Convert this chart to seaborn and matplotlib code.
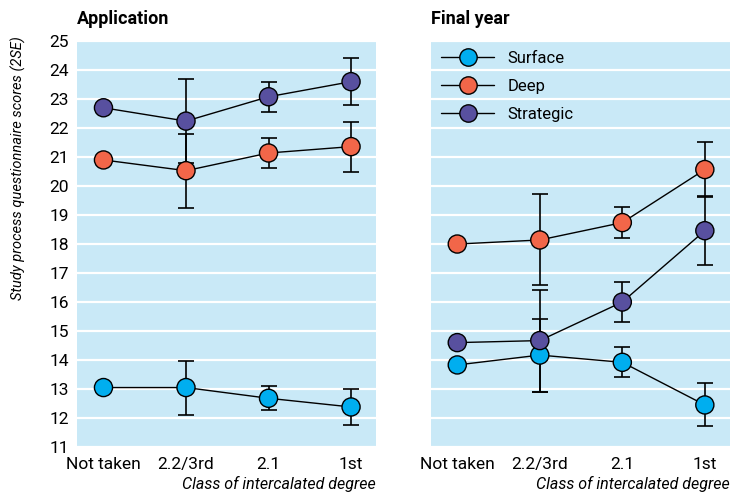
import numpy as np
import pandas as pd
import matplotlib
matplotlib.use("Agg")
import matplotlib.pyplot as plt
from matplotlib.lines import Line2D
import seaborn as sns

# data
categories = ["Not taken", "2.2/3rd", "2.1", "1st"]
styles = ["Surface", "Deep", "Strategic"]

app_surface = [13.05, 13.05, 12.68, 12.38]
app_deep = [20.90, 20.53, 21.14, 21.36]
app_strategic = [22.70, 22.24, 23.08, 23.60]
app_surface_err = [np.nan, 0.93, 0.42, 0.62]
app_deep_err = [np.nan, 1.27, 0.52, 0.86]
app_strategic_err = [np.nan, 1.45, 0.52, 0.82]

fin_surface = [13.83, 14.17, 13.92, 12.45]
fin_deep = [18.00, 18.14, 18.74, 20.57]
fin_strategic = [14.60, 14.67, 16.00, 18.46]
fin_surface_err = [np.nan, 1.26, 0.52, 0.74]
fin_deep_err = [np.nan, 1.57, 0.53, 0.96]
fin_strategic_err = [np.nan, 1.76, 0.69, 1.20]

colors = {"Surface": "#00aeef", "Deep": "#f26649", "Strategic": "#58509f"}
bg = "#c9e9f7"


def make_df(surface, deep, strategic, surface_err, deep_err, strategic_err):
    rows = []
    for style, vals, errs in [("Surface", surface, surface_err),
                              ("Deep", deep, deep_err),
                              ("Strategic", strategic, strategic_err)]:
        for i, cat in enumerate(categories):
            rows.append({"pos": i, "cls": cat, "style": style,
                         "score": vals[i], "err": errs[i]})
    return pd.DataFrame(rows)


df_app = make_df(app_surface, app_deep, app_strategic,
                 app_surface_err, app_deep_err, app_strategic_err)
df_fin = make_df(fin_surface, fin_deep, fin_strategic,
                 fin_surface_err, fin_deep_err, fin_strategic_err)

sns.set_style("white")
plt.rcParams["font.family"] = ["Liberation Sans Narrow", "Roboto", "DejaVu Sans"]
plt.rcParams["text.color"] = "black"
plt.rcParams["xtick.labelcolor"] = "black"
plt.rcParams["ytick.labelcolor"] = "black"
plt.rcParams["axes.labelcolor"] = "black"

fig = plt.figure(figsize=(7.34, 4.95), dpi=100)
ax1 = fig.add_axes([0.105, 0.097, 0.407, 0.820])
ax2 = fig.add_axes([0.587, 0.097, 0.407, 0.820])


def draw_panel(ax, df, title):
    ax.set_facecolor(bg)
    for s in ax.spines.values():
        s.set_visible(False)
    ax.set_ylim(11, 25)
    ax.set_xlim(-0.32, 3.3)
    ax.set_yticks(range(11, 26))
    ax.grid(axis="y", color="white", lw=1.6)
    ax.grid(axis="x", visible=False)
    ax.set_axisbelow(True)

    # connecting lines
    sns.lineplot(data=df, x="pos", y="score", units="style", estimator=None,
                 color="black", lw=1, ax=ax, legend=False, zorder=2)
    # error bars
    d = df.dropna(subset=["err"])
    ax.errorbar(d["pos"], d["score"], yerr=d["err"], fmt="none",
                ecolor="black", elinewidth=1.2, capsize=6, capthick=1.2,
                zorder=3)
    # markers
    sns.scatterplot(data=df, x="pos", y="score", hue="style",
                    palette=colors, s=170, edgecolor="black", linewidth=1,
                    ax=ax, legend=False, zorder=4)

    ax.set_xticks(range(len(categories)))
    ax.set_xticklabels(categories, fontsize=12.5)
    ax.tick_params(axis="x", direction="in", color="white", length=3,
                   width=1.5, pad=7)
    ax.tick_params(axis="y", length=0, labelsize=12.5, pad=6)
    ax.set_xlabel("Class of intercalated degree", fontsize=11.5,
                  fontstyle="italic", loc="right", labelpad=3)
    ax.set_ylabel("")
    ax.set_title(title, fontsize=13, fontweight="bold", loc="left", pad=12)


draw_panel(ax1, df_app, "Application")
draw_panel(ax2, df_fin, "Final year")
ax2.tick_params(axis="y", labelleft=False)

ax1.set_ylabel("Study process questionnaire scores (2SE)", fontsize=10.5,
               fontstyle="italic")
ax1.yaxis.set_label_coords(-0.172, 0.687)

handles = [Line2D([0], [0], color="black", lw=1, marker="o", markersize=12.5,
                  markerfacecolor=colors[s], markeredgecolor="black")
           for s in styles]
ax2.legend(handles, styles, loc="upper left", frameon=False, fontsize=12,
           handlelength=3.2, labelspacing=0.78, borderaxespad=0.2,
           bbox_to_anchor=(0.0, 1.0))

fig.savefig("out.png", dpi=100)
